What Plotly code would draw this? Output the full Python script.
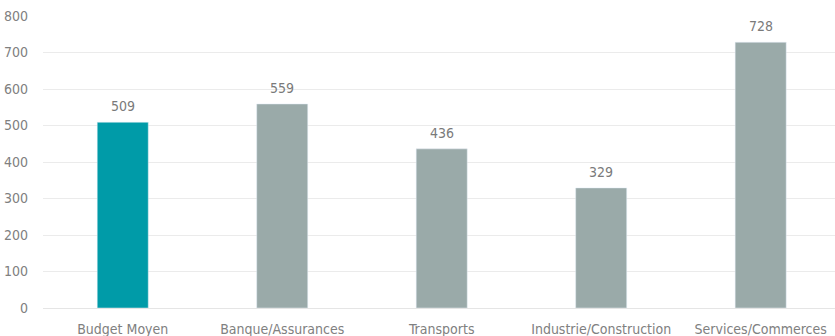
import plotly.graph_objects as go

categories = ["Budget Moyen", "Banque/Assurances", "Transports", "Industrie/Construction", "Services/Commerces"]
values = [509, 559, 436, 329, 728]
colors = ["#009BA8", "#9AAAA9", "#9AAAA9", "#9AAAA9", "#9AAAA9"]
y_ticks = [0, 100, 200, 300, 400, 500, 600, 700, 800]

FONT = "DejaVu Sans Condensed, sans-serif"

fig = go.Figure(go.Bar(
    x=categories, y=values, marker_color=colors, width=0.32,
))
for c, v in zip(categories, values):
    fig.add_annotation(x=c, y=v, text=str(v), showarrow=False, yanchor="bottom", yshift=6,
                       font=dict(family=FONT, size=14, color="#7A7A7A"))
fig.update_layout(
    width=835, height=336,
    margin=dict(l=43, r=0, t=16, b=28),
    plot_bgcolor="white", paper_bgcolor="white",
    showlegend=False,
    font=dict(family=FONT, size=14, color="#808080"),
)
fig.update_xaxes(range=[-0.5, 4.466], showgrid=False, showline=False, ticks="",
                 ticklabelstandoff=11,
                 tickfont=dict(family=FONT, size=14, color="#808080"))
fig.update_yaxes(range=[0, 800], tickvals=y_ticks, showgrid=True, gridcolor="#EBEBEB",
                 zeroline=True, zerolinecolor="#E5E5E5", zerolinewidth=1, showline=False,
                 ticks="", ticklabelstandoff=14,
                 tickfont=dict(family=FONT, size=14, color="#808080"))
fig.write_html("out.html")
